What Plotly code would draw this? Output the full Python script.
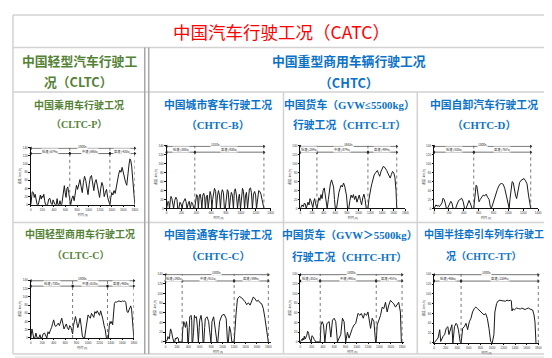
import plotly.graph_objects as go

W, H = 552, 358

# ---------------- data (time s, speed km/h) ----------------
CLTC_P_T = [0,10,25,45,60,75,90,110,130,150,165,180,195,210,225,240,255,270,290,310,330,350,370,385,400,420,440,455,470,490,505,520,535,550,565,580,595,610,625,640,655,670,680,690,
            710,730,750,770,790,810,830,850,870,890,910,930,950,970,990,1010,1030,1050,1070,1090,1110,1130,1150,1170,1190,1210,1230,1250,1270,1290,1310,1330,1350,1368,
            1385,1400,1420,1440,1460,1480,1500,1520,1540,1560,1580,1600,1620,1640,1660,1680,1700,1715,1730,1745,1760,1775,1790,1800]
CLTC_P_V = [0,22,32,30,18,26,12,0,0,20,24,14,22,18,26,10,0,0,0,14,16,4,0,12,8,0,0,15,0,0,10,0,0,20,42,47,30,18,40,44,30,12,8,0,
            15,22,10,30,48,38,52,62,45,30,55,70,60,40,25,50,68,72,58,35,55,62,48,28,18,40,55,46,20,30,38,18,5,0,
            18,30,24,35,28,45,60,75,85,80,92,78,62,55,48,80,100,113,108,95,70,40,15,0]
CLTC_P_B = [0, 674, 1368, 1800]
CLTC_P_L = ["1800s", "低速 (674s)", "中速 (693s)", "高速 (433s)"]

CHTC_B_T = [0,8,20,30,40,52,60,72,85,95,110,125,140,150,165,180,195,210,220,235,250,262,275,290,305,320,335,350,365,378,
            392,405,418,428,440,452,465,475,488,500,512,522,535,548,560,570,585,598,610,620,632,645,660,670,685,698,712,725,738,750,
            765,778,790,805,818,830,845,860,872,885,900,912,925,940,955,968,980,995,1010,1022,1035,1050,1062,1075,1090,1102,1115,1130,1142,1155,
            1170,1185,1198,1210,1225,1240,1255,1270,1285,1300,1310]
CHTC_B_V = [0,12,16,14,0,20,27,22,0,0,18,25,20,0,0,14,10,0,12,18,22,15,0,10,16,0,14,12,0,0,
            22,31,25,0,28,32,20,0,30,34,26,0,26,30,0,24,38,30,0,20,35,45,38,0,28,40,30,0,32,42,
            36,0,0,34,42,38,0,25,36,30,0,38,44,30,0,22,32,0,30,45,38,0,28,36,0,30,44,46,35,0,
            32,38,30,0,26,40,38,32,20,5,0]
CHTC_B_B = [0, 380, 1310]
CHTC_B_L = ["1310s", "低速 (380s)", "高速 (930s)"]

CHTC_LT_T = [0,15,30,50,70,85,100,115,130,150,165,180,200,215,230,245,260,275,284,
             300,318,335,355,372,390,410,420,440,460,480,500,515,535,550,570,585,600,620,640,660,680,700,720,740,760,790,810,830,850,870,890,910,930,950,970,990,1010,1030,1050,1070,1090,1110,1130,1150,1158,
             1175,1190,1210,1225,1245,1265,1285,1300,1320,1340,1360,1380,1400,1420,1440,1460,1480,1500,1520,1540,1560,1580,1600,1620,1640,1652]
CHTC_LT_V = [0,5,8,4,12,10,0,6,14,8,22,18,10,2,16,22,12,0,0,
             12,24,18,31,22,40,46,38,15,0,20,42,55,64,58,48,20,0,0,25,35,45,52,48,57,50,30,0,0,18,30,24,31,20,28,14,25,30,18,8,24,32,20,0,0,0,
             20,35,46,55,68,75,79,82,85,78,72,82,90,94,93,90,85,79,72,68,76,83,80,70,40,0]
CHTC_LT_B = [0, 284, 1158, 1652]
CHTC_LT_L = ["1652s", "低速 (284s)", "中速 (874s)", "高速 (494s)"]

CHTC_D_T = [0,12,25,40,55,70,90,105,120,135,150,165,180,195,210,225,240,255,270,290,310,330,350,370,390,410,430,450,470,490,510,533,
            545,555,565,575,590,605,620,640,660,680,700,720,740,755,770,790,810,830,850,870,890,910,930,950,970,985,1000,1010,1020,1030,
            1040,1050,1065,1080,1095,1110,1130,1150,1170,1190,1210,1230,1250,1270,1290,1300]
CHTC_D_V = [0,5,8,5,7,4,8,12,23,20,12,0,0,5,10,16,12,0,0,0,10,18,20,23,16,0,0,12,18,10,0,0,
            20,40,52,50,30,15,20,25,30,28,32,25,20,5,0,10,22,32,42,50,55,56,54,45,30,15,0,0,20,40,
            55,60,58,40,30,22,45,58,63,66,67,62,55,30,10,0]
CHTC_D_B = [0, 533, 1300]
CHTC_D_L = ["1300s", "低速 (533s)", "高速 (767s)"]

CLTC_C_T = [0,10,20,35,50,70,90,110,140,160,175,195,215,240,260,280,300,320,345,365,380,400,420,440,460,480,500,520,540,560,580,600,620,640,660,680,700,715,730,
            745,760,780,800,820,840,860,880,900,920,940,960,980,1000,1020,1040,1060,1080,1100,1120,1140,1160,1180,1200,1220,1240,1260,1280,1300,1320,1340,
            1355,1370,1385,1400,1415,1430,1445,1460,1480,1500,1520,1540,1560,1580,1600,1620,1640,1660,1680,1700,1715,1730,1745,1760,1775,1790,1800]
CLTC_C_V = [0,18,22,12,0,0,12,0,0,8,0,0,10,12,6,0,15,10,20,26,35,44,30,28,32,36,30,40,48,35,22,28,34,25,20,30,26,18,10,
            30,45,52,40,25,35,48,30,5,0,0,20,45,56,52,48,60,55,50,64,60,66,62,55,66,58,45,30,20,0,0,
            0,30,40,35,40,32,60,84,88,87,89,90,89,88,90,89,90,86,64,62,68,76,78,70,45,10,0]
CLTC_C_B = [0, 730, 1340, 1800]
CLTC_C_L = ["1800s", "低速 (730s)", "中速 (610s)", "高速 (460s)"]

CHTC_C_T = [0,15,29,41,52,64,87,104,122,145,160,174,190,203,221,232,260,290,
            300,319,335,348,366,380,389,400,415,424,447,458,464,475,490,505,520,540,555,563,575,590,598,621,640,656,670,685,696,
            726,755,770,784,795,805,813,842,860,871,885,900,915,930,946,987,1027,1062,1075,1085,1100,1110,1120,1143,1155,1161,1201,
            1215,1236,1259,1294,1335,1364,1393,1422,1451,1480,1509,1538,1567,1596,1625,1654,1683,1712,1741,1770,1800]
CHTC_C_V = [0,3,4,11,8,6,27,22,10,0,0,8,6,10,8,0,0,0,
            25,42,36,30,42,30,0,0,30,52,55,45,0,0,20,55,50,52,35,0,0,30,45,55,40,0,0,30,48,
            52,42,25,0,0,20,42,52,35,25,10,0,0,25,42,55,57,48,30,0,0,15,32,20,8,0,0,
            30,60,89,94,91,88,83,77,81,76,86,93,89,84,86,81,79,69,49,22,0]
CHTC_C_B = [0, 290, 1201, 1800]
CHTC_C_L = ["1800s", "低速 (290s)", "中速 (911s)", "高速 (599s)"]

CHTC_HT_T = [0,23,35,47,60,70,85,100,115,129,147,160,176,190,205,223,246,276,352,
             364,387,410,434,450,469,510,539,569,598,627,657,686,715,745,774,803,833,862,891,920,950,979,1020,1055,1079,1114,1137,1173,1196,1220,1243,1272,1302,1331,1343,
             1360,1390,1419,1448,1477,1507,1536,1565,1595,1624,1653,1683,1712,1741,1770,1788]
CHTC_HT_V = [0,5,3,8,4,12,6,10,14,22,18,8,3,0,13,11,5,0,0,
             35,42,35,0,20,38,42,10,45,49,42,0,8,15,49,42,0,20,8,20,28,35,38,59,55,59,49,59,55,62,42,28,49,42,0,0,
             35,45,55,72,69,82,62,76,86,82,79,72,76,82,62,0]
CHTC_HT_B = [0, 352, 1343, 1800]
CHTC_HT_L = ["1800s", "低速 (352s)", "中速 (991s)", "高速 (457s)"]

CHTC_TT_T = [0,23,45,68,97,114,153,182,210,238,256,284,307,324,352,380,397,420,449,466,
             494,522,551,579,608,636,664,693,721,749,778,806,835,863,891,920,948,977,1005,1033,1050,1079,1102,1136,1175,1204,1232,1260,1289,1317,
             1334,1346,1363,1385,1420,1459,1488,1516,1544,1572,1601,1630,1658,1703,1726,1743,1760]
CHTC_TT_V = [0,3,7,10,27,3,13,17,30,33,17,30,37,0,33,40,37,27,3,0,
             30,33,40,27,43,50,63,70,73,70,67,63,60,57,60,50,30,3,0,17,63,80,85,87,86,86,85,87,86,87,
             86,65,70,67,71,70,69,71,70,68,70,71,69,67,57,43,0]
CHTC_TT_B = [0, 466, 1800]
CHTC_TT_L = ["1800s", "低速 (466s)", "高速 (1334s)"]

# ---------------- layout config ----------------
def PX(x): return x / W
def PY(y): return 1 - y / H

CJK = "Noto Sans CJK SC"
SERIF = "Liberation Serif, Noto Sans CJK SC"
GREEN = "#548235"
BLUE = "#0b72c9"

charts = [
    dict(t=CHTC_B_T, v=CHTC_B_V, b=CHTC_B_B, l=CHTC_B_L, xmax=1400, box=(159, 264, 137, 200.7)),
]
charts = [
    dict(t=CLTC_P_T, v=CLTC_P_V, b=CLTC_P_B, l=CLTC_P_L, xmax=1800, box=(22, 127, 139, 197)),
    dict(t=CHTC_B_T, v=CHTC_B_V, b=CHTC_B_B, l=CHTC_B_L, xmax=1400, box=(159, 264, 137, 200.7)),
    dict(t=CHTC_LT_T, v=CHTC_LT_V, b=CHTC_LT_B, l=CHTC_LT_L, xmax=1800, box=(294, 400, 137, 200.7)),
    dict(t=CHTC_D_T, v=CHTC_D_V, b=CHTC_D_B, l=CHTC_D_L, xmax=1400, box=(429, 534, 137, 200.7)),
    dict(t=CLTC_C_T, v=CLTC_C_V, b=CLTC_C_B, l=CLTC_C_L, xmax=1800, box=(22, 126, 273, 331.7)),
    dict(t=CHTC_C_T, v=CHTC_C_V, b=CHTC_C_B, l=CHTC_C_L, xmax=1840, box=(158, 264, 266.7, 335.7)),
    dict(t=CHTC_HT_T, v=CHTC_HT_V, b=CHTC_HT_B, l=CHTC_HT_L, xmax=1841, box=(294, 399, 266.7, 335.7)),
    dict(t=CHTC_TT_T, v=CHTC_TT_V, b=CHTC_TT_B, l=CHTC_TT_L, xmax=1815, box=(429, 535, 266.7, 336.7)),
]
for c in charts:
    assert len(c['t']) == len(c['v']), (len(c['t']), len(c['v']))

fig = go.Figure()
layout = dict(width=W, height=H, margin=dict(l=0, r=0, t=0, b=0),
              paper_bgcolor="white", plot_bgcolor="white", showlegend=False,
              font=dict(family=CJK))
shapes, annots = [], []
YTOP = 141
for i, c in enumerate(charts):
    n = i + 1
    xa = "x" if n == 1 else f"x{n}"
    ya = "y" if n == 1 else f"y{n}"
    x0, x1, yt, yb = c['box']
    xticks = list(range(0, int(c['xmax']) + 1, 200))
    axis_common = dict(showline=True, linecolor="#111", linewidth=0.8, ticks="outside",
                       ticklen=1.5, tickwidth=0.5, tickcolor="#111", showgrid=False, zeroline=False,
                       tickfont=dict(size=3, family="Liberation Sans", color="#333"))
    layout["xaxis" if n == 1 else f"xaxis{n}"] = dict(
        domain=[PX(x0), PX(x1)], range=[0, c['xmax']], anchor=ya,
        tickvals=xticks, title=dict(text="时间 (s)", font=dict(size=3, color="#333"), standoff=1),
        **axis_common)
    layout["yaxis" if n == 1 else f"yaxis{n}"] = dict(
        domain=[PY(yb), PY(yt)], range=[0, YTOP], anchor=xa, tick0=0, dtick=20,
        title=dict(text="速度 (km/h)", font=dict(size=3, color="#333"), standoff=1),
        **axis_common)
    fig.add_trace(go.Scatter(x=c['t'], y=c['v'], xaxis=xa, yaxis=ya, mode="lines",
                             line=dict(color="#1a1a1a", width=1), hoverinfo="skip"))
    b = c['b']
    for bb in b[1:]:
        shapes.append(dict(type="line", xref=xa, yref=ya, x0=bb, x1=bb, y0=0, y1=YTOP,
                           line=dict(color="#555", width=0.8, dash="dot")))
    # top arrow (whole cycle)
    arrows = [(b[0], b[-1], 139, c['l'][0])]
    for k in range(len(b) - 1):
        arrows.append((b[k], b[k + 1], 126, c['l'][k + 1]))
    for (a0, a1, yy, lab) in arrows:
        fig.add_trace(go.Scatter(x=[a0, a1], y=[yy, yy], xaxis=xa, yaxis=ya, mode="lines+markers",
                                 line=dict(color="#111", width=0.6),
                                 marker=dict(symbol=["triangle-left", "triangle-right"], size=3, color="#111"),
                                 hoverinfo="skip", cliponaxis=False))
        annots.append(dict(x=(a0 + a1) / 2, y=yy, xref=xa, yref=ya, text=lab, showarrow=False,
                           yshift=2.2, font=dict(size=3.2, color="#222"), bgcolor="white", borderpad=0))

# ---------------- table frame ----------------
GRID = "#d2d2d2"
DBL = "#a8a8a8"
def hline(y, xa, xb, col=GRID, w=1.5):
    shapes.append(dict(type="line", xref="paper", yref="paper", x0=PX(xa), x1=PX(xb), y0=PY(y), y1=PY(y),
                       line=dict(color=col, width=w)))
def vline(x, ya, yb, col=GRID, w=1.5):
    shapes.append(dict(type="line", xref="paper", yref="paper", x0=PX(x), x1=PX(x), y0=PY(ya), y1=PY(yb),
                       line=dict(color=col, width=w)))

hline(5, 4, 546); hline(38, 4, 546); hline(83, 4, 546); hline(215, 4, 546); hline(348, 4, 546)
hline(351, 6, 548, col="#ececec", w=2)
vline(4, 5, 348); vline(546, 5, 348)
vline(137, 38, 348, col=DBL); vline(141, 38, 348, col=DBL)
vline(277, 83, 348); vline(412, 83, 348)

def txt(x, y, s, size, color, family=CJK):
    annots.append(dict(x=PX(x), y=PY(y), xref="paper", yref="paper", text=s, showarrow=False,
                       xanchor="center", yanchor="middle", font=dict(size=size, color=color, family=family)))

txt(275, 22, "中国汽车行驶工况（CATC）", 17.5, "#ff0000")
txt(71, 51, "<b>中国轻型汽车行驶工</b>", 12.8, GREEN)
txt(70, 72, "<b>况（CLTC）</b>", 12.8, GREEN)
txt(343, 51, "<b>中国重型商用车辆行驶工况</b>", 12.8, BLUE)
txt(343, 73, "<b>（CHTC）</b>", 12.8, BLUE)

sub = [
    (71, 96, 116, "中国乘用车行驶工况", "（CLTC-P）", GREEN, 10),
    (211, 96, 116, "中国城市客车行驶工况", "（CHTC-B）", BLUE, 10.8),
    (344, 96, 116, "中国货车（GVW≤5500kg）", "行驶工况（CHTC-LT）", BLUE, 10.8),
    (479, 96, 116, "中国自卸汽车行驶工况", "（CHTC-D）", BLUE, 10.8),
    (72, 227, 248, "中国轻型商用车行驶工况", "（CLTC-C）", GREEN, 10),
    (211, 227, 249, "中国普通客车行驶工况", "（CHTC-C）", BLUE, 10.8),
    (344, 227, 249, "中国货车（GVW＞5500kg）", "行驶工况（CHTC-HT）", BLUE, 10.8),
    (479, 227, 249, "中国半挂牵引车列车行驶工", "况（CHTC-TT）", BLUE, 10),
]
for (x, y1, y2, s1, s2, col, fs) in sub:
    txt(x, y1, f"<b>{s1}</b>", fs, col, SERIF)
    txt(x, y2, f"<b>{s2}</b>", fs, col, SERIF)

layout["shapes"] = shapes
layout["annotations"] = annots
fig.update_layout(**layout)
fig.write_html("out.html")
